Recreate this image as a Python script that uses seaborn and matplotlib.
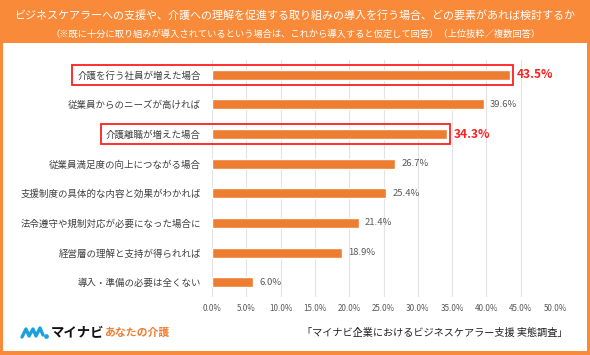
import matplotlib
matplotlib.use('Agg')
import matplotlib.pyplot as plt
import matplotlib.patches as mpatches
import seaborn as sns
import numpy as np
import pandas as pd

categories = [
    '介護を行う社員が増えた場合',
    '従業員からのニーズが高ければ',
    '介護離職が増えた場合',
    '従業員満足度の向上につながる場合',
    '支援制度の具体的な内容と効果がわかれば',
    '法令遵守や規制対応が必要になった場合に',
    '経営層の理解と支持が得られれば',
    '導入・準備の必要は全くない',
]
values = [43.5, 39.6, 34.3, 26.7, 25.4, 21.4, 18.9, 6.0]
highlight = [True, False, True, False, False, False, False, False]
xticks = [0, 5, 10, 15, 20, 25, 30, 35, 40, 45, 50]

title = 'ビジネスケアラーへの支援や、介護への理解を促進する取り組みの導入を行う場合、どの要素があれば検討するか'
subtitle = '（※既に十分に取り組みが導入されているという場合は、これから導入すると仮定して回答）（上位抜粋／複数回答）'
source = '「マイナビ企業におけるビジネスケアラー支援 実態調査」'

sns.set_style('white')
plt.rcParams['font.family'] = ['Noto Sans CJK JP', 'DejaVu Sans']

ORANGE = '#F98A3A'
BAR = '#ED7D31'
RED = '#FF1F1F'
GREY = '#595959'

df = pd.DataFrame({'item': categories, 'pct': values})

fig = plt.figure(figsize=(5.9, 3.55), dpi=100)
fig.patch.set_facecolor(ORANGE)
# white panel inside the orange frame
bg = fig.add_axes([3 / 590, 4 / 355, 584 / 590, 308 / 355], zorder=-5)
bg.set_facecolor('white')
bg.set_xticks([])
bg.set_yticks([])
for s in bg.spines.values():
    s.set_visible(False)

ax = fig.add_axes([212 / 590, 58 / 355, 343 / 590, 237 / 355])
ax.set_facecolor('none')
sns.barplot(data=df, x='pct', y='item', color=BAR, width=0.34, ax=ax, zorder=3,
            saturation=1)
ax.set_xlim(0, 50)
ax.set_xticks(xticks)
ax.set_xticklabels([f'{t:.1f}%' for t in xticks], fontsize=5.8, color=GREY)
ax.tick_params(axis='x', length=0, pad=5)
ax.tick_params(axis='y', length=0, pad=8)
for lab in ax.get_yticklabels():
    lab.set_fontsize(6.8)
    lab.set_color('#404040')
ax.set_xlabel('')
ax.set_ylabel('')
ax.grid(axis='x', color='#E3E3E3', lw=0.8, zorder=0)
for s in ax.spines.values():
    s.set_visible(False)

for i, (v, h) in enumerate(zip(values, highlight)):
    if h:
        ax.text(v + 0.9, i, f'{v:.1f}%', va='center', ha='left', fontsize=8.6,
                color=RED, fontweight='bold')
    else:
        ax.text(v + 0.9, i, f'{v:.1f}%', va='center', ha='left', fontsize=6.8,
                color=GREY)

# red boxes around highlighted rows
fig.canvas.draw()
renderer = fig.canvas.get_renderer()
inv = fig.transFigure.inverted()
labels = ax.get_yticklabels()
for i, h in enumerate(highlight):
    if not h:
        continue
    bb = labels[i].get_window_extent(renderer)
    x0 = inv.transform((bb.x0 - 5, 0))[0]
    xr, ytop = inv.transform(ax.transData.transform((values[i], i - 0.33)))
    _, ybot = inv.transform(ax.transData.transform((values[i], i + 0.33)))
    xr += 2.5 / 590
    fig.patches.append(mpatches.Rectangle((x0, ybot), xr - x0, ytop - ybot,
                                          transform=fig.transFigure, fill=False,
                                          edgecolor=RED, lw=1.3, zorder=5))

fig.text(295 / 590, 1 - 15 / 355, title, ha='center', va='center', color='white', fontsize=7.95)
fig.text(296 / 590, 1 - 34 / 355, subtitle, ha='center', va='center', color='white', fontsize=6.7)
fig.text(568 / 590, 1 - 333 / 355, source, ha='right', va='center', color='#222222',
         fontsize=7.3)

# logo
fig.lines.append(plt.Line2D(np.array([22, 26, 29, 33, 36, 40, 43]) / 590,
                            1 - np.array([337, 329, 336, 329, 336, 328, 335]) / 355,
                            transform=fig.transFigure, color='#1BA1E2', lw=2.4,
                            solid_capstyle='round'))
fig.lines.append(plt.Line2D([46 / 590], [1 - 336 / 355], transform=fig.transFigure,
                            marker='o', ms=2.4, color='#1BA1E2', lw=0))
fig.text(51 / 590, 1 - 333 / 355, 'マイナビ', ha='left', va='center', color='#111111',
         fontsize=9.6, fontweight='bold')
fig.text(104 / 590, 1 - 333 / 355, 'あなたの介護', ha='left', va='center', color=BAR,
         fontsize=7.8, fontweight='bold')

fig.savefig('out.png', dpi=100, facecolor=fig.get_facecolor())
